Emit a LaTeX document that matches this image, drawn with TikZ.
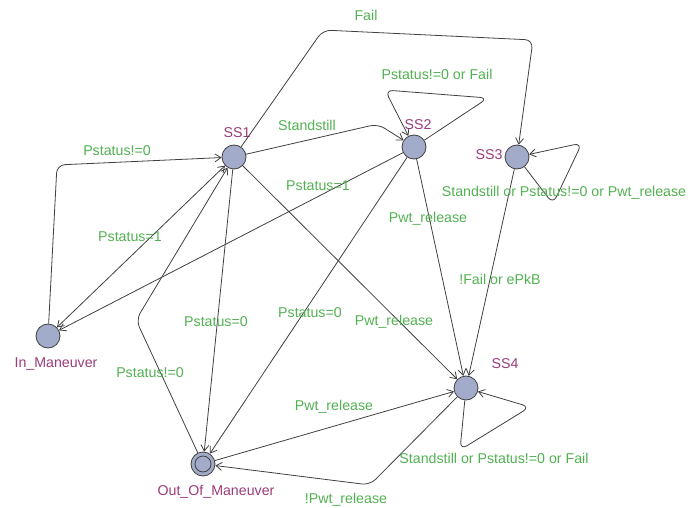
\documentclass[tikz,border=0pt]{standalone}
\usepackage{fontspec}
\setmainfont{Liberation Sans}
\usetikzlibrary{arrows.meta}

\begin{document}
\begin{tikzpicture}[x=1pt, y=-1pt, font=\fontsize{14.2}{16}\selectfont]
  \definecolor{locblue}{HTML}{A3ABCB}
  \definecolor{guardgreen}{HTML}{52B152}
  \definecolor{locname}{HTML}{9B3B7B}
  \tikzstyle{loc}=[circle, draw=black!75, fill=locblue, minimum size=24pt, inner sep=0pt, line width=0.8pt]
  \tikzstyle{locnm}=[text=locname, inner sep=0pt]
  \tikzstyle{guard}=[text=guardgreen, inner sep=0pt]
  \tikzstyle{trans}=[draw=black!75, line width=0.8pt, rounded corners=8pt, -{Straight Barb[length=6pt,width=8pt]}]

  \useasboundingbox (0,0) rectangle (694,508);

  % locations
  \node[loc](ss1) at (234,157) {};
  \node[loc](ss2) at (414,147) {};
  \node[loc](ss3) at (517,157) {};
  \node[loc](ss4) at (466,388) {};
  \node[loc](im) at (48,336) {};
  \node[loc](oom) at (203,464) {};
  \draw[draw=black!75, line width=0.8pt] (oom.center) circle (8pt);

  \node[locnm](ss1n) at (237,133) {SS1};
  \node[locnm](ss2n) at (418,125) {SS2};
  \node[locnm](ss3n) at (489,155) {SS3};
  \node[locnm](ss4n) at (505,364) {SS4};
  \node[locnm](imn) at (56,364) {In\_Maneuver};
  \node[locnm](oomn) at (216,492) {Out\_Of\_Maneuver};

  % bend points
  \coordinate (c1) at (378,124);
  \coordinate (c2a) at (488,98);
  \coordinate (c2b) at (385,90);
  \coordinate (c3a) at (323,30);
  \coordinate (c3b) at (533,40);
  \coordinate (c4a) at (553,204);
  \coordinate (c4b) at (582,143);
  \coordinate (c5a) at (460,450);
  \coordinate (c5b) at (530,407);
  \coordinate (c6) at (370,485);
  \coordinate (c7) at (136,320);
  \coordinate (c8) at (57,165);

  % transitions
  \draw[trans] (ss1) -- (c1) -- (ss2);
  \draw[trans] (ss2) -- (c2a) -- (c2b) -- (ss2);
  \draw[trans] (ss1) -- (c3a) -- (c3b) -- (ss3);
  \draw[trans] (ss3) -- (c4a) -- (c4b) -- (ss3);
  \draw[trans] (ss3) -- (ss4);
  \draw[trans] (ss2) -- (ss4);
  \draw[trans] (ss1) -- (ss4);
  \draw[trans] (ss2) -- (im);
  \draw[trans] (ss2) -- (oom);
  \draw[trans] (ss1) -- (oom);
  \draw[trans, {Straight Barb[length=6pt,width=8pt]}-{Straight Barb[length=6pt,width=8pt]}] (ss1) -- (im);
  \draw[trans] (im) -- (c8) -- (ss1);
  \draw[trans] (oom) -- (c7) -- (ss1);
  \draw[trans] (oom) -- (ss4);
  \draw[trans] (ss4) -- (c6) -- (oom);
  \draw[trans] (ss4) -- (c5a) -- (c5b) -- (ss4);

  % guards
  \node[guard](g1) at (366,15) {Fail};
  \node[guard](g2) at (437,74) {Pstatus!=0 or Fail};
  \node[guard](g3) at (307,125) {Standstill};
  \node[guard](g4) at (117,151) {Pstatus!=0};
  \node[guard](g5) at (130,237) {Pstatus=1};
  \node[guard](g6) at (318,186) {Pstatus=1};
  \node[guard](g7) at (428,219) {Pwt\_release};
  \node[guard](g8) at (564,193) {Standstill or Pstatus!=0 or Pwt\_release};
  \node[guard](g9) at (500,279) {!Fail or ePkB};
  \node[guard](g10) at (216,322) {Pstatus=0};
  \node[guard](g11) at (310,313) {Pstatus=0};
  \node[guard](g12) at (394,322) {Pwt\_release};
  \node[guard](g13) at (150,373) {Pstatus!=0};
  \node[guard](g14) at (334,407) {Pwt\_release};
  \node[guard](g15) at (494,458) {Standstill or Pstatus!=0 or Fail};
  \node[guard](g16) at (346,500) {!Pwt\_release};
\end{tikzpicture}
\end{document}
